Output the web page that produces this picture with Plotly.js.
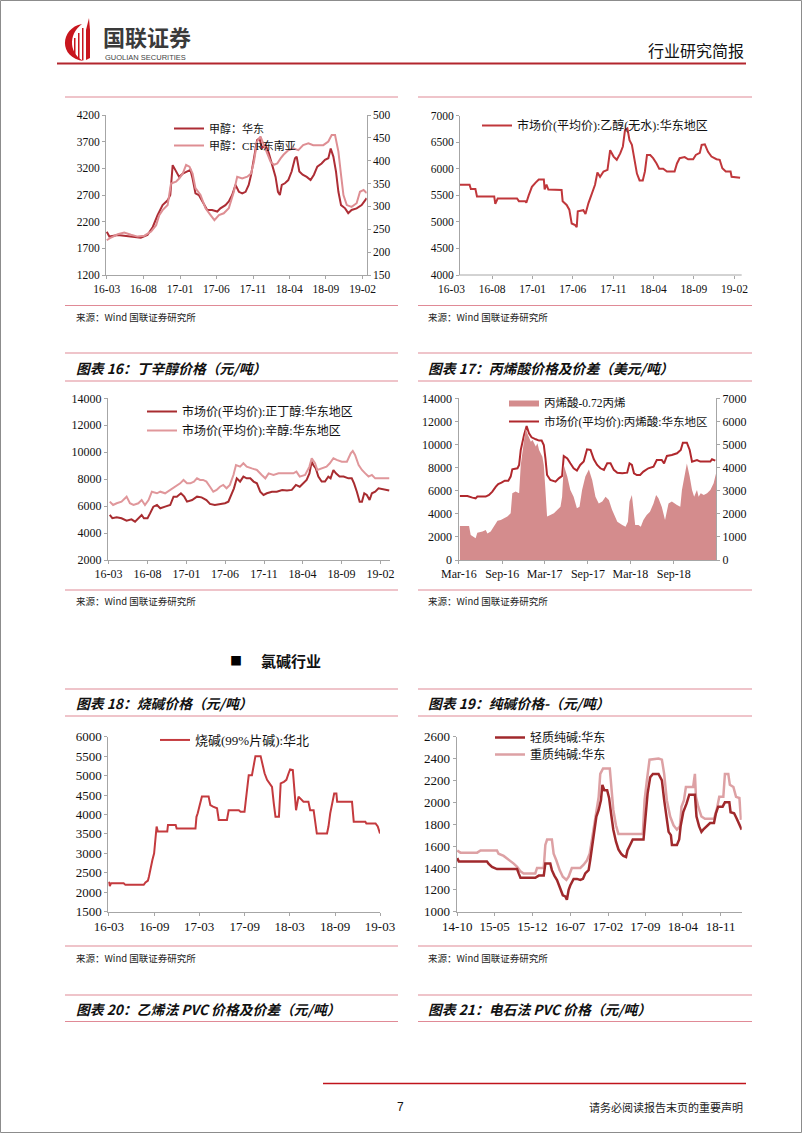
<!DOCTYPE html>
<html><head><meta charset="utf-8">
<script src="https://cdn.plot.ly/plotly-3.0.1.min.js"></script>
<style>html,body{margin:0;padding:0;background:#fff;}#chart{width:802px;height:1133px;}</style>
</head><body><div id="chart"></div>
<script>
// ===== Data =====
// 甲醇 华东 (元/吨, 左轴)
const methEastDates = ["2016-03-01","2016-03-12","2016-04-16","2016-06-24","2016-07-21","2016-08-18","2016-09-09","2016-09-29","2016-10-20","2016-11-10","2016-11-21","2016-12-01","2016-12-15","2016-12-28","2017-01-12","2017-02-02","2017-02-13","2017-02-22","2017-03-06","2017-03-20","2017-04-03","2017-04-24","2017-05-14","2017-06-05","2017-06-18","2017-07-09","2017-07-23","2017-08-06","2017-08-20","2017-09-03","2017-09-17","2017-10-01","2017-10-14","2017-10-24","2017-11-05","2017-11-18","2017-11-28","2017-12-09","2017-12-23","2018-01-06","2018-01-20","2018-02-03","2018-02-13","2018-02-21","2018-03-01","2018-03-14","2018-03-28","2018-04-11","2018-04-25","2018-05-02","2018-05-13","2018-05-27","2018-06-13","2018-06-29","2018-07-13","2018-07-27","2018-08-14","2018-08-28","2018-09-11","2018-09-21","2018-10-02","2018-10-13","2018-10-23","2018-11-03","2018-11-20","2018-12-03","2018-12-17","2019-01-07","2019-01-28","2019-02-11","2019-02-18"];
const methEast = [2010,1920,1950,1920,1900,1950,2100,2320,2510,2600,2700,3260,3140,3040,3100,3140,3170,3010,2730,2700,2580,2420,2420,2390,2450,2510,2580,2700,2890,2760,2730,2760,2890,3080,3390,3730,3760,3580,3640,3480,3260,3040,2760,2700,2890,2920,2980,3140,3390,3420,3140,3080,3040,2980,3080,3230,3290,3360,3390,3570,3420,3140,2760,2510,2450,2360,2420,2450,2510,2600,2640];
// 甲醇 CFR东南亚 (美元/吨, 右轴)
const methCfrDates = ["2016-03-01","2016-03-19","2016-04-16","2016-05-13","2016-06-10","2016-07-08","2016-08-05","2016-09-02","2016-09-23","2016-10-06","2016-10-20","2016-11-10","2016-11-24","2016-12-15","2016-12-28","2017-01-12","2017-01-26","2017-02-09","2017-02-22","2017-03-06","2017-03-27","2017-04-17","2017-05-08","2017-05-24","2017-06-12","2017-07-02","2017-07-23","2017-08-13","2017-08-27","2017-09-17","2017-10-08","2017-10-24","2017-11-05","2017-11-18","2017-12-02","2017-12-16","2017-12-29","2018-01-13","2018-01-27","2018-02-10","2018-02-24","2018-03-08","2018-03-28","2018-04-18","2018-05-09","2018-05-29","2018-06-20","2018-07-10","2018-08-01","2018-08-21","2018-09-11","2018-09-25","2018-10-09","2018-10-23","2018-11-03","2018-11-13","2018-11-27","2018-12-17","2019-01-07","2019-01-21","2019-02-05","2019-02-18"];
const methCfr = [226,232,239,243,238,234,236,245,259,281,292,303,350,354,361,372,391,387,372,340,325,296,281,270,281,285,296,332,365,361,365,372,398,442,453,434,416,398,391,394,405,413,423,427,423,434,438,434,434,434,442,456,456,420,369,325,303,299,307,332,336,329];

// 乙醇(无水) 华东地区
const ethDates = ["2016-04-01","2016-05-08","2016-05-13","2016-05-30","2016-06-05","2016-08-09","2016-08-13","2016-08-22","2016-11-03","2016-11-10","2016-12-04","2016-12-08","2016-12-17","2016-12-29","2017-01-12","2017-01-24","2017-02-12","2017-02-15","2017-02-22","2017-03-01","2017-04-20","2017-04-24","2017-05-09","2017-05-19","2017-05-28","2017-06-10","2017-06-16","2017-06-20","2017-07-11","2017-07-19","2017-07-30","2017-08-12","2017-08-24","2017-09-02","2017-09-12","2017-09-25","2017-10-10","2017-10-20","2017-11-02","2017-11-14","2017-11-27","2017-12-07","2017-12-15","2017-12-24","2018-01-01","2018-01-10","2018-01-19","2018-01-29","2018-02-08","2018-02-20","2018-02-28","2018-03-08","2018-03-20","2018-03-31","2018-04-13","2018-04-23","2018-05-08","2018-05-22","2018-06-20","2018-06-29","2018-07-09","2018-07-28","2018-08-10","2018-08-29","2018-09-08","2018-09-23","2018-09-30","2018-10-12","2018-10-24","2018-11-06","2018-11-25","2018-12-07","2018-12-17","2018-12-30","2019-01-17","2019-01-21","2019-02-22"];
const ethPrice = [5700,5700,5620,5620,5480,5480,5340,5440,5440,5390,5390,5360,5500,5660,5740,5800,5800,5610,5700,5610,5600,5390,5320,5230,4970,4940,4900,5200,5220,5150,5350,5540,5700,5930,5850,5950,5980,6350,6230,6170,6290,6420,6730,6760,6540,6450,6170,5910,5780,5780,5950,6260,6260,6200,6100,6000,6000,5950,5950,6100,6200,6220,6180,6180,6260,6300,6450,6460,6320,6230,6180,6170,6010,5950,5950,5850,5830];

// 正丁醇 华东地区
const butDates = ["2016-03-06","2016-03-16","2016-04-02","2016-04-21","2016-05-11","2016-05-30","2016-06-13","2016-06-26","2016-07-09","2016-07-18","2016-08-01","2016-08-11","2016-08-24","2016-09-07","2016-09-20","2016-10-09","2016-10-29","2016-11-11","2016-11-24","2016-12-10","2016-12-23","2017-01-03","2017-01-23","2017-02-11","2017-03-01","2017-03-20","2017-04-03","2017-04-22","2017-05-12","2017-06-01","2017-06-14","2017-06-23","2017-07-06","2017-07-17","2017-07-30","2017-08-12","2017-08-25","2017-09-08","2017-09-21","2017-10-04","2017-10-17","2017-10-30","2017-11-12","2017-12-02","2017-12-21","2018-01-11","2018-01-30","2018-02-18","2018-03-06","2018-03-21","2018-04-04","2018-04-17","2018-04-28","2018-05-07","2018-05-13","2018-05-23","2018-06-02","2018-06-15","2018-06-28","2018-07-11","2018-07-20","2018-07-31","2018-08-10","2018-08-24","2018-09-09","2018-09-28","2018-10-11","2018-10-20","2018-10-31","2018-11-11","2018-11-20","2018-11-29","2018-12-09","2018-12-20","2018-12-29","2019-01-11","2019-01-24","2019-02-07","2019-02-20","2019-03-07"];
const butPrice = [5340,5100,5170,5100,4920,5020,4850,5100,5340,5100,5100,5460,5960,6080,5840,5960,6080,6700,6700,6950,6700,6330,6450,6700,6650,6450,6160,6080,6160,6210,6330,6700,7320,8060,7820,8190,8060,8060,7820,7690,7070,6830,6950,7070,7070,7200,7150,7200,7570,7440,7690,7940,8430,9300,9050,8800,8190,7820,7820,8190,8060,8680,8430,8190,8190,8060,8060,7690,7070,6330,6330,6950,6830,6450,6950,7070,7320,7250,7200,7150];
// 辛醇 华东地区
const octDates = ["2016-03-06","2016-03-19","2016-04-02","2016-04-21","2016-05-11","2016-05-24","2016-06-07","2016-06-26","2016-07-09","2016-07-22","2016-08-05","2016-08-18","2016-09-07","2016-09-20","2016-10-09","2016-10-29","2016-11-18","2016-12-07","2016-12-20","2017-01-03","2017-01-16","2017-01-30","2017-02-11","2017-02-23","2017-03-07","2017-03-20","2017-04-03","2017-04-16","2017-04-29","2017-05-12","2017-05-25","2017-06-07","2017-06-20","2017-07-04","2017-07-14","2017-07-30","2017-08-12","2017-08-25","2017-09-14","2017-10-04","2017-10-23","2017-11-06","2017-11-19","2017-12-08","2017-12-28","2018-01-17","2018-02-06","2018-02-24","2018-03-08","2018-03-21","2018-04-11","2018-04-28","2018-05-07","2018-05-20","2018-05-29","2018-06-15","2018-07-04","2018-07-17","2018-07-31","2018-08-13","2018-09-02","2018-09-22","2018-10-07","2018-10-15","2018-10-24","2018-11-07","2018-11-20","2018-12-03","2018-12-16","2018-12-29","2019-01-11","2019-01-31","2019-03-07"];
const octPrice = [6330,6080,6210,6330,6700,6210,6080,6210,6450,6080,6450,7070,6950,7070,6950,7200,7440,7690,7940,7690,7690,7820,8060,7940,7940,7820,7440,7070,7200,7440,7570,7320,7570,8310,9050,8930,9180,8930,8800,8680,8310,8060,8430,8310,8430,8430,8480,8430,8560,8190,8310,8930,9550,9180,8680,8800,8930,9180,9550,9430,9300,9300,9920,10090,9800,9050,8680,8430,8190,8310,8060,8060,8060];

// 丙烯酸 华东地区 (左轴) & 丙烯酸-0.72丙烯 (右轴)
const acrDates = ["2016-03-05","2016-04-06","2016-04-27","2016-05-11","2016-05-18","2016-06-23","2016-07-07","2016-07-21","2016-08-05","2016-08-15","2016-08-29","2016-09-12","2016-09-27","2016-10-07","2016-10-14","2016-11-05","2016-11-12","2016-11-19","2016-12-03","2016-12-14","2016-12-24","2017-01-04","2017-01-22","2017-02-05","2017-02-16","2017-02-25","2017-03-04","2017-03-11","2017-03-25","2017-04-16","2017-04-30","2017-05-14","2017-05-21","2017-06-05","2017-06-18","2017-07-02","2017-07-16","2017-07-30","2017-08-14","2017-08-28","2017-09-12","2017-09-26","2017-10-10","2017-10-24","2017-11-08","2017-11-22","2017-12-06","2017-12-20","2018-01-04","2018-01-25","2018-02-15","2018-02-25","2018-03-07","2018-03-16","2018-03-28","2018-04-11","2018-04-25","2018-05-16","2018-06-07","2018-06-21","2018-07-12","2018-07-22","2018-08-03","2018-08-24","2018-09-15","2018-10-01","2018-10-10","2018-10-27","2018-11-08","2018-11-18","2018-12-09","2018-12-23","2019-01-14","2019-02-04","2019-02-11","2019-02-25"];
const acrPrice = [5540,5540,5400,5340,5490,5490,5630,5920,6350,6580,6700,6870,6870,7220,7850,7940,8230,9530,10830,11600,10970,10620,10450,10340,10340,9960,8800,7360,6930,6780,7070,7280,9010,8800,8370,7940,7740,8230,8520,9580,9530,8720,8230,7940,7800,8370,8370,7800,7560,7510,7560,8370,8230,7510,7360,7360,7650,7940,8080,8660,8660,8370,9010,9090,9240,9530,10160,10160,9530,8520,8660,8520,8520,8520,8720,8600];
const spreadDates = ["2016-03-05","2016-04-13","2016-04-20","2016-05-04","2016-05-11","2016-05-18","2016-06-09","2016-06-23","2016-06-30","2016-07-14","2016-07-28","2016-08-12","2016-08-26","2016-09-09","2016-09-23","2016-10-07","2016-10-14","2016-10-28","2016-11-12","2016-11-19","2016-12-03","2016-12-10","2016-12-17","2017-01-01","2017-01-08","2017-01-22","2017-01-29","2017-02-05","2017-02-19","2017-02-25","2017-03-04","2017-03-11","2017-03-25","2017-04-09","2017-04-23","2017-05-07","2017-05-14","2017-05-21","2017-06-05","2017-06-18","2017-07-02","2017-07-16","2017-07-27","2017-08-07","2017-08-21","2017-09-05","2017-09-19","2017-10-03","2017-10-17","2017-11-01","2017-11-15","2017-11-29","2017-12-13","2018-01-04","2018-01-25","2018-02-08","2018-02-18","2018-02-25","2018-03-07","2018-03-14","2018-03-21","2018-04-04","2018-04-14","2018-04-25","2018-05-09","2018-05-23","2018-06-07","2018-06-18","2018-06-28","2018-07-12","2018-07-26","2018-08-10","2018-08-24","2018-09-15","2018-09-29","2018-10-06","2018-10-16","2018-10-27","2018-11-08","2018-11-18","2018-11-27","2018-12-09","2018-12-16","2018-12-25","2019-01-07","2019-01-21","2019-02-04","2019-02-18","2019-02-28"];
const spreadVal = [1470,1470,1080,980,940,1180,1230,1300,1150,1230,1440,1700,1730,1800,1880,2020,2890,2960,2890,4110,5270,5700,5480,5120,5190,4910,5050,4760,4470,4110,3030,1880,1950,2020,2160,2310,2740,4110,3610,3030,2740,2240,2310,3030,3610,3920,3460,2740,2450,2530,2740,2600,2160,1660,1520,1440,1660,2530,2810,2160,1520,1520,1440,1730,1950,2090,2450,2810,2670,2310,1730,2450,2530,2380,2310,3030,3610,4180,3610,3030,2740,3030,2740,2890,2810,2890,3030,3320,3750];

// 烧碱(99%片碱) 华北
const causticDates = ["2016-03-01","2016-03-05","2016-03-10","2016-04-30","2016-05-07","2016-07-20","2016-07-27","2016-08-06","2016-08-10","2016-08-17","2016-08-24","2016-08-31","2016-09-06","2016-09-10","2016-09-15","2016-10-23","2016-10-26","2016-11-26","2016-11-30","2017-02-14","2017-02-18","2017-02-23","2017-03-03","2017-03-12","2017-04-08","2017-04-15","2017-04-26","2017-05-12","2017-05-19","2017-06-21","2017-06-28","2017-08-08","2017-08-15","2017-08-31","2017-09-04","2017-09-11","2017-09-17","2017-09-30","2017-10-07","2017-10-14","2017-11-04","2017-11-11","2017-11-20","2017-11-30","2017-12-11","2017-12-20","2017-12-27","2018-01-03","2018-01-17","2018-01-24","2018-02-06","2018-02-16","2018-02-25","2018-03-03","2018-03-14","2018-03-21","2018-03-27","2018-04-06","2018-04-15","2018-04-26","2018-05-16","2018-05-23","2018-06-06","2018-06-12","2018-06-19","2018-07-30","2018-08-05","2018-08-12","2018-08-19","2018-08-28","2018-09-06","2018-09-09","2018-11-08","2018-11-15","2019-01-01","2019-01-05","2019-02-11","2019-02-20","2019-03-01"];
const causticPrice = [2270,2160,2230,2230,2190,2190,2250,2300,2400,2660,2830,3000,3340,3690,3560,3560,3730,3730,3640,3640,3940,4030,4240,4460,4460,4240,4200,4160,3860,3860,4110,4110,4070,4070,4290,4710,5010,5010,5270,5500,5500,5310,5060,4890,4800,4710,4290,3940,3940,4800,4840,4890,5060,5160,5140,4630,4110,4460,4410,4330,4330,4110,4110,3860,3510,3510,3690,4030,4290,4540,4540,4330,4330,3810,3810,3770,3770,3690,3510];

// 纯碱 华东: 轻质 / 重质
const lightSodaDates = ["2014-10-01","2014-10-10","2014-10-19","2015-03-18","2015-03-27","2015-04-16","2015-05-14","2015-09-05","2015-09-14","2015-09-24","2015-12-17","2016-01-06","2016-02-03","2016-02-12","2016-03-11","2016-03-20","2016-04-03","2016-04-18","2016-05-07","2016-05-21","2016-06-04","2016-06-13","2016-06-23","2016-07-02","2016-07-21","2016-08-09","2016-08-28","2016-09-12","2016-09-25","2016-10-14","2016-10-23","2016-11-02","2016-11-15","2016-11-27","2016-12-10","2016-12-23","2016-12-31","2017-01-11","2017-01-27","2017-02-07","2017-02-18","2017-03-03","2017-03-18","2017-04-01","2017-04-16","2017-04-29","2017-05-14","2017-05-22","2017-06-06","2017-06-21","2017-08-21","2017-08-30","2017-09-13","2017-09-28","2017-10-13","2017-11-14","2017-12-03","2017-12-16","2017-12-31","2018-01-10","2018-01-23","2018-01-29","2018-02-26","2018-03-11","2018-03-19","2018-04-03","2018-04-22","2018-05-07","2018-06-08","2018-06-17","2018-07-02","2018-07-15","2018-07-25","2018-08-13","2018-09-02","2018-09-24","2018-10-05","2018-10-18","2018-11-12","2018-11-25","2018-12-20","2018-12-27","2019-01-16","2019-01-31","2019-02-19","2019-02-28"];
const lightSoda = [1490,1460,1460,1460,1440,1410,1390,1390,1350,1310,1310,1330,1330,1440,1440,1380,1330,1290,1210,1150,1140,1110,1200,1240,1300,1300,1290,1300,1350,1380,1470,1590,1720,1870,1930,2020,2160,2110,2110,2040,1900,1750,1640,1570,1530,1510,1500,1560,1610,1660,1660,1850,2080,2230,2260,2260,2200,2020,1870,1730,1700,1610,1610,1660,1780,1910,1990,2070,2070,1870,1780,1730,1750,1780,1810,1810,1900,1960,1960,2000,2000,1910,1900,1850,1790,1750];
const denseSodaDates = ["2014-10-01","2014-10-19","2015-01-22","2015-02-10","2015-05-14","2015-05-23","2015-06-21","2015-07-09","2015-08-17","2015-09-05","2015-09-24","2015-10-12","2015-12-17","2015-12-27","2016-02-03","2016-02-12","2016-02-22","2016-03-20","2016-03-30","2016-04-14","2016-05-03","2016-05-21","2016-06-10","2016-06-23","2016-07-11","2016-08-28","2016-09-16","2016-10-05","2016-10-20","2016-11-02","2016-11-15","2016-11-27","2016-12-10","2016-12-19","2017-01-04","2017-02-11","2017-02-18","2017-03-03","2017-03-18","2017-04-01","2017-08-17","2017-08-27","2017-09-09","2017-09-24","2017-11-14","2017-12-03","2017-12-16","2017-12-31","2018-01-19","2018-02-07","2018-02-26","2018-03-15","2018-03-24","2018-04-07","2018-04-18","2018-05-29","2018-06-08","2018-06-14","2018-06-27","2018-07-15","2018-08-04","2018-09-24","2018-10-09","2018-10-24","2018-11-16","2018-11-25","2018-12-14","2018-12-23","2019-01-12","2019-01-27","2019-02-15","2019-02-24"];
const denseSoda = [1560,1540,1540,1560,1560,1530,1510,1490,1440,1410,1370,1350,1350,1400,1400,1610,1660,1660,1530,1470,1380,1320,1290,1320,1400,1400,1430,1470,1530,1660,1790,1930,2050,2260,2310,2310,2170,1930,1790,1710,1710,2020,2200,2390,2400,2390,2260,2020,1870,1790,1750,1780,1960,2020,2140,2140,2260,2050,1960,1870,1850,1850,1930,2050,2050,2260,2260,2160,2140,2050,2040,1840];

// ===== Helpers =====
const W = 802, H = 1133;
const X = p => p / W;
const Y = p => 1 - p / H;
const xd = (a, b) => [X(a), X(b)];
const yd = (top, bottom) => [Y(bottom), Y(top)];

const SERIF = 'Liberation Serif, "Times New Roman", "Noto Sans CJK SC", serif';
const LEG = 'Liberation Serif, "Noto Sans CJK SC", serif';
const CJK = '"Noto Sans CJK SC", sans-serif';
const AXC = '#A6A6A6';

function xAx(dom, range, tick0, dtick, fmt, fs, anchor, extra) {
  return Object.assign({
    type: 'date', domain: dom, range: range, anchor: anchor,
    tick0: tick0, dtick: dtick, tickformat: fmt, tickmode: 'linear',
    showgrid: false, zeroline: false, showline: true, linecolor: AXC, linewidth: 1,
    ticks: 'outside', ticklen: 3, tickcolor: AXC,
    tickfont: {family: SERIF, size: fs, color: '#111'}, fixedrange: true
  }, extra || {});
}
function yAx(dom, range, dtick, fs, anchor, extra) {
  return Object.assign({
    domain: dom, range: range, anchor: anchor, dtick: dtick, tick0: 0, tickmode: 'linear',
    tickformat: 'd', showgrid: false, zeroline: false, showline: true, linecolor: AXC, linewidth: 1,
    ticks: 'outside', ticklen: 3, tickcolor: AXC,
    tickfont: {family: SERIF, size: fs, color: '#111'}, fixedrange: true
  }, extra || {});
}
function leg(xpx, ypx, fs) {
  return {x: X(xpx), y: Y(ypx), xanchor: 'left', yanchor: 'top', bgcolor: 'rgba(0,0,0,0)',
    font: {family: LEG, size: fs, color: '#111'}, tracegroupgap: 0};
}
function hline(x0, x1, y, color, w) {
  return {type: 'line', xref: 'paper', yref: 'paper', x0: X(x0), x1: X(x1), y0: Y(y), y1: Y(y),
    line: {color: color, width: w}};
}
function txt(s, x, y, font, xanchor) {
  return {xref: 'paper', yref: 'paper', x: X(x), y: Y(y), xanchor: xanchor || 'left', yanchor: 'middle',
    text: s, showarrow: false, font: font};
}

// ===== Traces =====
const traces = [
  {x: methEastDates, y: methEast, name: '甲醇：华东', type: 'scatter', mode: 'lines',
   line: {color: '#AD2D35', width: 2}, xaxis: 'x', yaxis: 'y', legend: 'legend'},
  {x: methCfrDates, y: methCfr, name: '甲醇：CFR东南亚', type: 'scatter', mode: 'lines',
   line: {color: '#DE8E93', width: 2}, xaxis: 'x', yaxis: 'y2', legend: 'legend7'},

  {x: ethDates, y: ethPrice, name: '市场价(平均价):乙醇(无水):华东地区', type: 'scatter', mode: 'lines',
   line: {color: '#C0373B', width: 2}, xaxis: 'x2', yaxis: 'y3', legend: 'legend2'},

  {x: butDates, y: butPrice, name: '市场价(平均价):正丁醇:华东地区', type: 'scatter', mode: 'lines',
   line: {color: '#A82C30', width: 2}, xaxis: 'x3', yaxis: 'y4', legend: 'legend3'},
  {x: octDates, y: octPrice, name: '市场价(平均价):辛醇:华东地区', type: 'scatter', mode: 'lines',
   line: {color: '#E0979B', width: 2}, xaxis: 'x3', yaxis: 'y4', legend: 'legend8'},

  {x: spreadDates, y: spreadVal, name: '丙烯酸-0.72丙烯', type: 'scatter', mode: 'lines',
   fill: 'tozeroy', fillcolor: '#D48C8D', line: {color: '#D48C8D', width: 0},
   xaxis: 'x4', yaxis: 'y6', legend: 'legend4'},
  {x: acrDates, y: acrPrice, name: '市场价(平均价):丙烯酸:华东地区', type: 'scatter', mode: 'lines',
   line: {color: '#B0282D', width: 2}, xaxis: 'x4', yaxis: 'y5', legend: 'legend9'},

  {x: causticDates, y: causticPrice, name: '烧碱(99%片碱):华北', type: 'scatter', mode: 'lines',
   line: {color: '#C43A3E', width: 2}, xaxis: 'x5', yaxis: 'y7', legend: 'legend5'},

  {x: denseSodaDates, y: denseSoda, name: '重质纯碱:华东', type: 'scatter', mode: 'lines',
   line: {color: '#DDA1A4', width: 2.5}, xaxis: 'x6', yaxis: 'y8', legend: 'legend10'},
  {x: lightSodaDates, y: lightSoda, name: '轻质纯碱:华东', type: 'scatter', mode: 'lines',
   line: {color: '#A0292C', width: 2.5}, xaxis: 'x6', yaxis: 'y8', legend: 'legend6'}
];

// ===== Layout =====
const PINK = '#E08A96';
const RED = '#C8161E';
const shapes = [
  {type: 'rect', xref: 'paper', yref: 'paper', x0: X(0.5), x1: X(801.5), y0: Y(0.5), y1: Y(1132.5),
   line: {color: '#8C8C8C', width: 1}},
  hline(57, 746, 63.5, '#B3262E', 2),
  hline(65, 398, 97, PINK, 1.2), hline(418, 752, 97, PINK, 1.2),
  hline(65, 398, 305.5, PINK, 1.2), hline(418, 752, 305.5, PINK, 1.2),
  hline(65, 398, 353, PINK, 1.2), hline(418, 752, 353, PINK, 1.2),
  hline(65, 398, 381, PINK, 1.2), hline(418, 752, 381, PINK, 1.2),
  hline(65, 398, 590, PINK, 1.2), hline(418, 752, 590, PINK, 1.2),
  hline(65, 398, 689, PINK, 1.2), hline(418, 752, 689, PINK, 1.2),
  hline(65, 398, 716, PINK, 1.2), hline(418, 752, 716, PINK, 1.2),
  hline(65, 398, 946, PINK, 1.2), hline(418, 752, 946, PINK, 1.2),
  hline(65, 398, 995, PINK, 1.2), hline(418, 752, 995, PINK, 1.2),
  hline(65, 398, 1021.5, PINK, 1.2), hline(418, 752, 1021.5, PINK, 1.2),
  hline(323, 746, 1083.5, '#C0141C', 1.6),
  hline(459, 741.7, 275, AXC, 1),
  // logo
  {type: 'path', xref: 'paper', yref: 'paper', fillcolor: RED, line: {width: 0},
   path: `M ${X(82)} ${Y(24)} C ${X(60)} ${Y(28)} ${X(58)} ${Y(58)} ${X(84)} ${Y(61)} C ${X(70)} ${Y(55)} ${X(67)} ${Y(35)} ${X(82)} ${Y(24)} Z`},
  {type: 'path', xref: 'paper', yref: 'paper', fillcolor: RED, line: {width: 0},
   path: `M ${X(86)} ${Y(60)} L ${X(86)} ${Y(30)} L ${X(89)} ${Y(18)} L ${X(90)} ${Y(30)} L ${X(90)} ${Y(58)} Z`},
  {type: 'rect', xref: 'paper', yref: 'paper', x0: X(74), x1: X(75.5), y0: Y(58), y1: Y(38), fillcolor: RED, line: {width: 0}},
  {type: 'rect', xref: 'paper', yref: 'paper', x0: X(78), x1: X(79.5), y0: Y(59), y1: Y(33), fillcolor: RED, line: {width: 0}},
  {type: 'rect', xref: 'paper', yref: 'paper', x0: X(82), x1: X(83.5), y0: Y(60), y1: Y(28), fillcolor: RED, line: {width: 0}}
];

const titleFont = {family: CJK, size: 13.8, color: '#111', weight: 'bold', style: 'italic'};
const srcFont = {family: '"Noto Sans CJK SC", "Liberation Sans", sans-serif', size: 9.5, color: '#222'};
const SRC = '来源：Wind 国联证券研究所';
const annotations = [
  txt('国联证券', 101, 36, {family: CJK, size: 22, color: '#3A3A3A', weight: 'bold'}),
  txt('GUOLIAN SECURITIES', 103, 57.5, {family: 'Liberation Sans, Arial, sans-serif', size: 7.5, color: '#444'}),
  txt('行业研究简报', 746, 50, {family: CJK, size: 16, color: '#111'}, 'right'),

  txt(SRC, 74, 317, srcFont), txt(SRC, 426, 317, srcFont),

  txt('图表 16：丁辛醇价格（元/吨）', 74, 367.5, titleFont),
  txt('图表 17：丙烯酸价格及价差（美元/吨）', 426, 367.5, titleFont),
  txt(SRC, 74, 601, srcFont), txt(SRC, 426, 601, srcFont),

  txt('■', 236, 660, {family: CJK, size: 12, color: '#000'}, 'center'),
  txt('氯碱行业', 259, 660, {family: CJK, size: 15, color: '#111', weight: 'bold'}),

  txt('图表 18：烧碱价格（元/吨）', 74, 702.5, titleFont),
  txt('图表 19：纯碱价格-（元/吨）', 426, 702.5, titleFont),
  txt(SRC, 74, 958, srcFont), txt(SRC, 426, 958, srcFont),

  txt('图表 20：乙烯法 PVC 价格及价差（元/吨）', 74, 1008.5, titleFont),
  txt('图表 21：电石法 PVC 价格（元/吨）', 426, 1008.5, titleFont),

  txt('7', 400.5, 1107, {family: 'Liberation Sans, Arial, sans-serif', size: 12, color: '#111'}, 'center'),
  txt('请务必阅读报告末页的重要声明', 745, 1107, {family: CJK, size: 11, color: '#222'}, 'right')
];

const layout = {
  width: W, height: H, autosize: false,
  margin: {l: 0, r: 0, t: 0, b: 0, pad: 0},
  paper_bgcolor: '#fff', plot_bgcolor: 'rgba(0,0,0,0)',
  showlegend: true,
  shapes: shapes, annotations: annotations,

  // 甲醇
  xaxis: xAx(xd(106, 366.7), ['2016-02-27', '2019-02-18'], '2016-03-01', 'M5', '%y-%m', 11.5, 'y'),
  yaxis: yAx(yd(115, 275), [1200, 4200], 500, 11.5, 'x', {tick0: 1200}),
  yaxis2: yAx(yd(115, 275), [150, 500], 50, 11.5, 'x', {overlaying: 'y', side: 'right', tick0: 150}),

  // 乙醇
  xaxis2: xAx(xd(451, 741.7), ['2016-02-28', '2019-02-28'], '2016-03-01', 'M5', '%y-%m', 11.5, 'y3', {showline: false}),
  yaxis3: yAx(yd(115.7, 275), [4000, 7000], 500, 11.5, 'free', {position: X(459)}),

  // 丁辛醇
  xaxis3: xAx(xd(108, 390), ['2016-02-28', '2019-03-10'], '2016-03-01', 'M5', '%y-%m', 12, 'y4'),
  yaxis4: yAx(yd(398.3, 560), [2000, 14000], 2000, 12, 'x3'),

  // 丙烯酸
  xaxis4: xAx(xd(458.5, 716), ['2016-02-28', '2019-02-28'], '2016-03-01', 'M6', '%b-%y', 12, 'y5'),
  yaxis5: yAx(yd(398.3, 560), [0, 14000], 2000, 12, 'x4'),
  yaxis6: yAx(yd(398.3, 560), [0, 7000], 1000, 12, 'x4', {overlaying: 'y5', side: 'right'}),

  // 烧碱
  xaxis5: xAx(xd(108.3, 380), ['2016-02-28', '2019-03-01'], '2016-03-01', 'M6', '%y-%m', 13, 'y7'),
  yaxis7: yAx(yd(736.7, 911.7), [1500, 6000], 500, 13, 'x5', {tick0: 1500}),

  // 纯碱
  xaxis6: xAx(xd(456.7, 741.7), ['2014-09-28', '2019-02-28'], '2014-10-01', 'M7', '%y-%m', 13, 'y8'),
  yaxis8: yAx(yd(736.7, 911.7), [1000, 2600], 200, 13, 'x6', {tick0: 1000}),

  legend: leg(169, 114, 11),
  legend7: leg(169, 131, 11),
  legend2: leg(477, 111, 12),
  legend3: leg(142, 397, 12),
  legend8: leg(142, 416, 12),
  legend4: leg(504, 388, 11.5),
  legend9: leg(504, 407, 11.5),
  legend5: leg(155, 725, 13),
  legend6: leg(490, 723, 12),
  legend10: leg(490, 740, 12)
};

Plotly.newPlot('chart', traces, layout, {displayModeBar: false, staticPlot: true});
</script>
</body></html>
